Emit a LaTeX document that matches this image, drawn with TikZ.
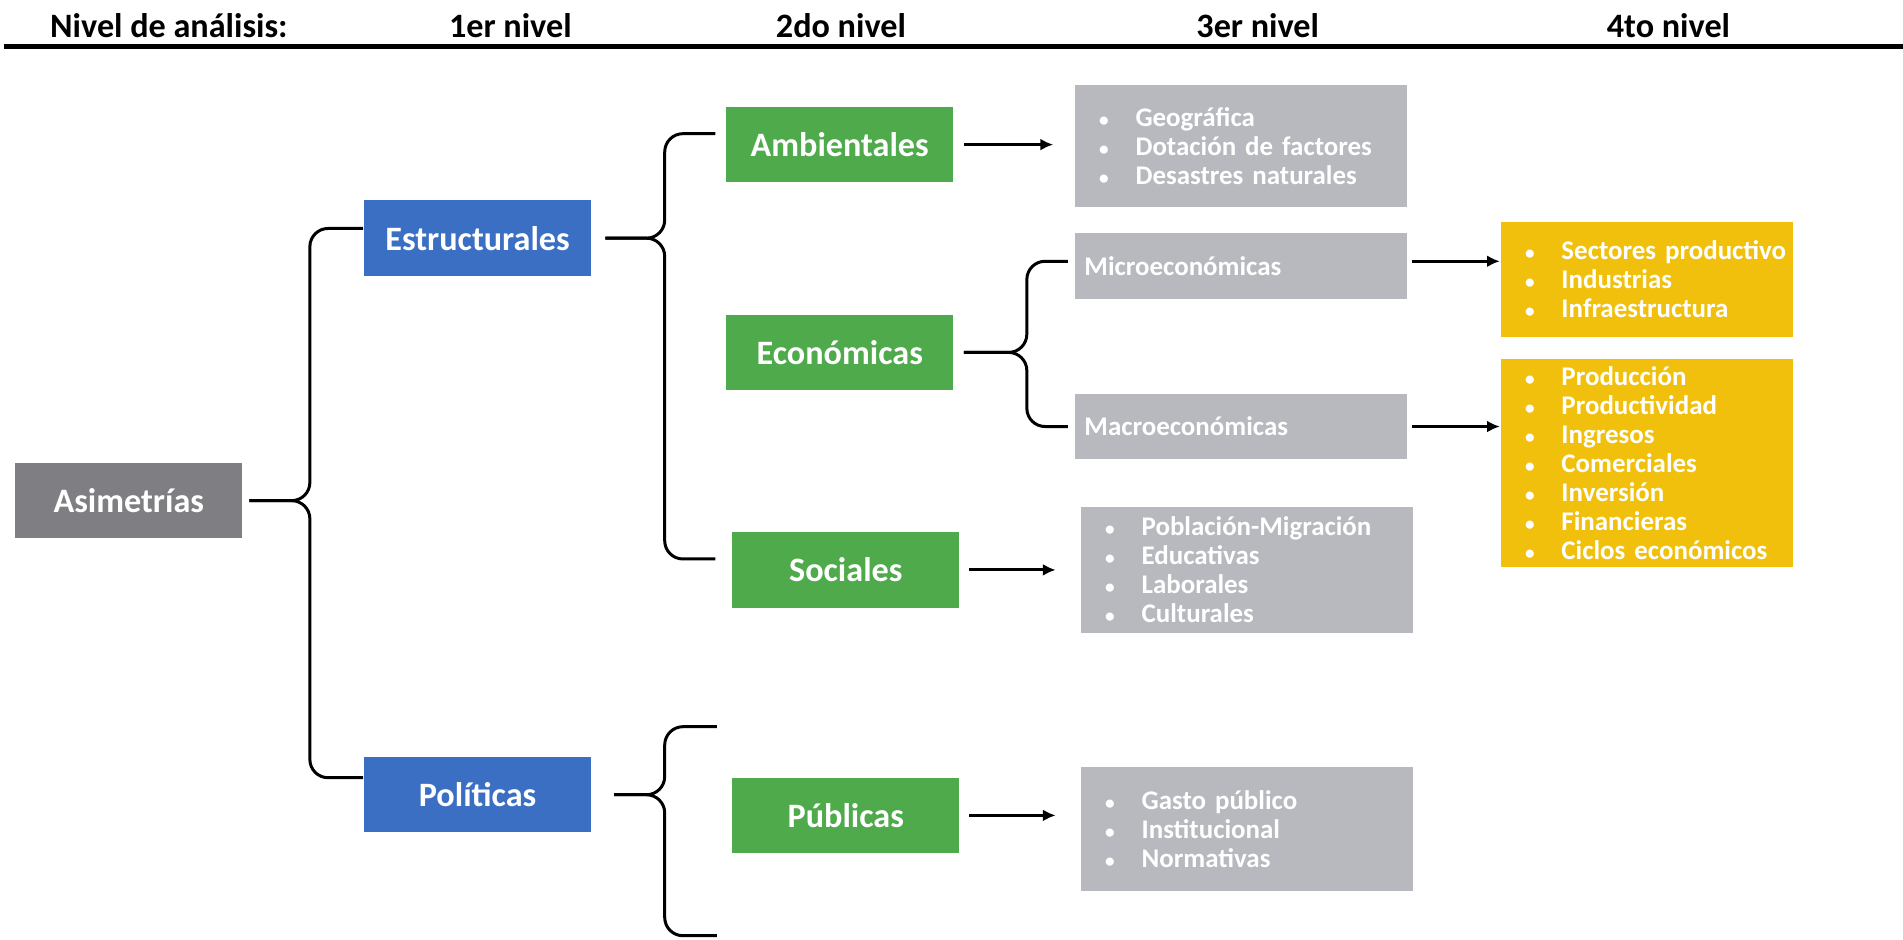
\documentclass[tikz,border=0pt]{standalone}
\usepackage{fontspec}
\setmainfont{Carlito}
\usetikzlibrary{arrows.meta,calc}

\definecolor{rootgray}{RGB}{127,127,131}
\definecolor{levelblue}{RGB}{59,111,196}
\definecolor{levelgreen}{RGB}{78,170,74}
\definecolor{itemgray}{RGB}{183,185,190}
\definecolor{itemyellow}{RGB}{240,192,12}

\newcommand{\bul}{\hspace*{0.15cm}\makebox[0.3cm][l]{\fontsize{4.5}{4.5}\selectfont\textbullet}}

\begin{document}
\begin{tikzpicture}[x=0.01cm,y=-0.01cm]
\tikzstyle{every node}=[font=\bfseries\fontsize{8}{9.6}\selectfont]
\tikzstyle{level}=[text=white, minimum width=1.87cm, minimum height=0.62cm, inner sep=0pt]
\tikzstyle{items}=[text=white, align=left, text width=2.63cm, inner xsep=0.05cm, inner ysep=0pt, font=\bfseries\fontsize{6.3}{6.8}\selectfont]
\tikzstyle{subbox}=[text=white, fill=itemgray, align=left, text width=2.57cm, inner xsep=0.08cm, inner ysep=0pt, minimum height=0.54cm, font=\bfseries\fontsize{6.3}{6.8}\selectfont]
\tikzstyle{brace}=[line width=0.7pt, rounded corners=0.15cm]
\tikzstyle{arr}=[line width=0.7pt, -{Latex[length=3pt,width=2.8pt]}]

\useasboundingbox (0,0) rectangle (1566,773);

% Draw the header
\node (h0) at (139,21) {Nivel de análisis:};
\node (h1) at (420,21) {1er nivel};
\node (h2) at (692,21) {2do nivel};
\node (h3) at (1035,21) {3er nivel};
\node (h4) at (1373,21) {4to nivel};
\draw[line width=1.1pt] (3,38) -- (1566,38);

% Draw the root node
\node[level, fill=rootgray] (asim) at (106,412) {Asimetrías};

% Draw the first level of nodes
\node[level, fill=levelblue] (est) at (393,196) {Estructurales};
\node[level, fill=levelblue] (pol) at (393,654) {Políticas};

% Draw the second level of nodes
\node[level, fill=levelgreen] (amb) at (691,119) {Ambientales};
\node[level, fill=levelgreen] (eco) at (691,290) {Económicas};
\node[level, fill=levelgreen] (soc) at (696,469) {Sociales};
\node[level, fill=levelgreen] (pub) at (696,671) {Públicas};

% Draw the third level of nodes
\node[items, fill=itemgray, minimum height=1cm] (geo) at (1021,120)
  {\bul Geográfica\\ \bul Dotación de factores\\ \bul Desastres naturales};
\node[subbox] (micro) at (1021,219) {Microeconómicas};
\node[subbox] (macro) at (1021,351) {Macroeconómicas};
\node[items, fill=itemgray, minimum height=1.03cm] (pob) at (1026,469)
  {\bul Población-Migración\\ \bul Educativas\\ \bul Laborales\\ \bul Culturales};
\node[items, fill=itemgray, minimum height=1.02cm] (gas) at (1026,682)
  {\bul Gasto público\\ \bul Institucional\\ \bul Normativas};

% Draw the fourth level of nodes
\node[items, fill=itemyellow, text width=2.30cm, minimum height=0.95cm] (sec) at (1355,230)
  {\bul Sectores productivo\\ \bul Industrias\\ \bul Infraestructura};
\node[items, fill=itemyellow, text width=2.30cm, minimum height=1.71cm] (prod) at (1355,381)
  {\bul Producción\\ \bul Productividad\\ \bul Ingresos\\ \bul Comerciales\\ \bul Inversión\\ \bul Financieras\\ \bul Ciclos económicos};

% Draw the braces between the levels
\coordinate (b1) at (255,0);
\coordinate (b2) at (547,0);
\coordinate (b3) at (845,0);
\coordinate (pt) at (590,598);
\coordinate (pb) at (590,770);
\draw[brace, shorten <=0.05cm] (asim.east) -- (asim.east -| b1) |- ($(est.west)+(0,-8)$);
\draw[brace, shorten <=0.05cm] (asim.east) -- (asim.east -| b1) |- ($(pol.west)+(0,-14)$);
\draw[brace, shorten <=0.11cm, shorten >=0.08cm] (est.east) -- (est.east -| b2) |- ($(amb.west)+(0,-9)$);
\draw[brace, shorten <=0.11cm, shorten >=0.13cm] (est.east) -- (est.east -| b2) |- ($(soc.west)+(0,-9)$);
\draw[brace, shorten <=0.18cm] (pol.east) -- (pol.east -| b2) |- (pt);
\draw[brace, shorten <=0.18cm] (pol.east) -- (pol.east -| b2) |- (pb);
\draw[brace, shorten <=0.08cm, shorten >=0.05cm] (eco.east) -- (eco.east -| b3) |- ($(micro.west)+(0,-4)$);
\draw[brace, shorten <=0.08cm, shorten >=0.05cm] (eco.east) -- (eco.east -| b3) |- (macro.west);

% Draw the arrows to the lists
\draw[arr, shorten <=0.08cm, shorten >=0.17cm] (amb.east) -- (amb.east -| geo.west);
\draw[arr, shorten <=0.04cm] ($(micro.east)+(0,-4)$) -- ($(micro.east -| sec.west)+(0,-4)$);
\draw[arr, shorten <=0.04cm] (macro.east) -- (macro.east -| prod.west);
\draw[arr, shorten <=0.07cm, shorten >=0.2cm] (soc.east) -- (soc.east -| pob.west);
\draw[arr, shorten <=0.07cm, shorten >=0.2cm] (pub.east) -- (pub.east -| gas.west);

\end{tikzpicture}
\end{document}
